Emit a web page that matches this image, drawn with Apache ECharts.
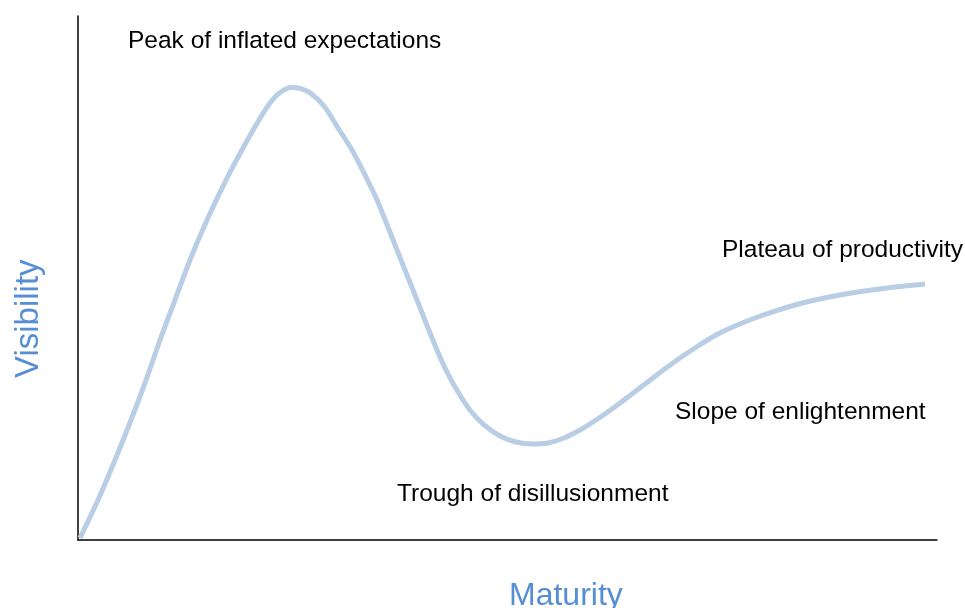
<!DOCTYPE html>
<html>
<head>
<meta charset="utf-8">
<script src="https://cdn.jsdelivr.net/npm/echarts@6/dist/echarts.min.js"></script>
<style>
html,body{margin:0;padding:0;background:#fff;}
#chart{width:965px;height:608px;}
</style>
</head>
<body>
<div id="chart"></div>
<script>
// Maturity (x) values, 0-100
const maturity = [0.23, 2.33, 4.31, 6.17, 7.92, 9.55, 11.29, 13.04, 15.02, 17.23, 19.21, 21.07, 22.35, 23.52, 24.80,
  25.96, 27.12, 28.64, 30.27, 31.90, 33.41, 34.81, 37.14, 39.46, 41.79, 42.96, 44.24, 45.63, 47.26, 49.13, 50.99, 52.85,
  54.71, 56.58, 58.44, 60.30, 62.16, 64.03, 66.01, 67.99, 70.08, 72.18, 74.27, 76.48, 78.81, 81.14, 83.47, 85.79,
  88.71, 91.62, 95.11, 98.60];
// Visibility (y) values, 0-100
const visibility = [0.38, 7.63, 15.27, 22.90, 30.53, 38.17, 45.80, 53.44, 61.07, 68.70, 74.81, 80.15, 83.40, 85.40, 86.36,
  86.16, 85.21, 82.82, 78.63, 74.43, 69.66, 64.89, 55.34, 45.80, 36.26, 32.06, 28.24, 24.81, 21.95, 19.85, 18.70, 18.32,
  18.51, 19.47, 20.99, 22.90, 25.00, 27.29, 29.77, 32.25, 34.73, 37.02, 39.12, 40.84, 42.37, 43.70, 44.85, 45.80,
  46.76, 47.52, 48.28, 48.85];
// Phase annotations
const phaseLabels = ["Peak of inflated expectations", "Plateau of productivity", "Slope of enlightenment", "Trough of disillusionment"];
const axisTitles = ["Maturity", "Visibility"];

const chart = echarts.init(document.getElementById('chart'), null, {renderer: 'canvas'});
const points = maturity.map((x, i) => [x, visibility[i]]);
const labelPos = [[128, 41], [722, 250], [675, 412], [397, 494]];
const font = 'Liberation Sans, Arial, sans-serif';

chart.setOption({
  animation: false,
  backgroundColor: '#ffffff',
  grid: {left: 78, right: 28, top: 16, bottom: 68},
  xAxis: {
    type: 'value', min: 0, max: 100,
    axisLine: {show: true, lineStyle: {color: '#000', width: 1.5}},
    axisTick: {show: false}, axisLabel: {show: false}, splitLine: {show: false}
  },
  yAxis: {
    type: 'value', min: 0, max: 100,
    axisLine: {show: true, lineStyle: {color: '#000', width: 1.5}},
    axisTick: {show: false}, axisLabel: {show: false}, splitLine: {show: false}
  },
  series: [{
    type: 'line',
    data: points,
    smooth: 0.3,
    showSymbol: false,
    lineStyle: {color: '#B9CDE5', width: 5},
    z: 1
  }],
  graphic: [
    ...phaseLabels.map((t, i) => ({
      type: 'text', left: labelPos[i][0], top: labelPos[i][1] - 12,
      style: {text: t, font: '24.5px ' + font, fill: '#000'}
    })),
    {type: 'text', left: 509, top: 580,
     style: {text: axisTitles[0], font: '32px ' + font, fill: '#558ED5'}},
    {type: 'text', x: 12, y: 378, rotation: Math.PI / 2,
     style: {text: axisTitles[1], font: '33px ' + font, fill: '#558ED5', textVerticalAlign: 'top'}}
  ]
});
</script>
</body>
</html>
